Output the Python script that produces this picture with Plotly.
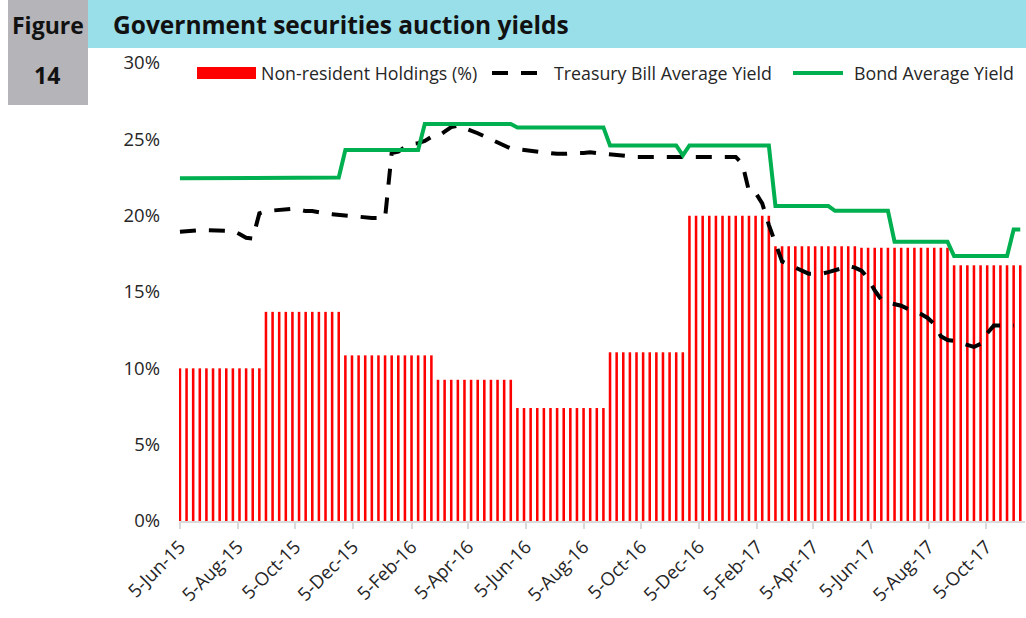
import pandas as pd
import plotly.graph_objects as go

# Weekly auction dates (Fridays) from 5-Jun-15
dates = pd.date_range("2015-06-05", periods=128, freq="7D")

holdings = [
    10.0, 10.0, 10.0, 10.0, 10.0, 10.0, 10.0, 10.0, 10.0, 10.0, 10.0, 10.0, 10.0,
    13.7, 13.7, 13.7, 13.7, 13.7, 13.7, 13.7, 13.7, 13.7, 13.7, 13.7, 13.7,
    10.85, 10.85, 10.85, 10.85, 10.85, 10.85, 10.85, 10.85, 10.85, 10.85, 10.85, 10.85, 10.85, 10.85,
    9.25, 9.25, 9.25, 9.25, 9.25, 9.25, 9.25, 9.25, 9.25, 9.25, 9.25, 9.25,
    7.4, 7.4, 7.4, 7.4, 7.4, 7.4, 7.4, 7.4, 7.4, 7.4, 7.4, 7.4, 7.4, 7.4,
    11.05, 11.05, 11.05, 11.05, 11.05, 11.05, 11.05, 11.05, 11.05, 11.05, 11.05, 11.05,
    20.0, 20.0, 20.0, 20.0, 20.0, 20.0, 20.0, 20.0, 20.0, 20.0, 20.0, 20.0, 20.0,
    18.0, 18.0, 18.0, 18.0, 18.0, 18.0, 18.0, 18.0, 18.0, 18.0, 18.0, 18.0, 18.0,
    17.9, 17.9, 17.9, 17.9, 17.9, 17.9, 17.9, 17.9, 17.9, 17.9, 17.9, 17.9, 17.9, 17.9,
    16.75, 16.75, 16.75, 16.75, 16.75, 16.75, 16.75, 16.75, 16.75, 16.75, 16.75,
]

tbill = [
    18.95, 19.0, 19.05, 19.05, 19.05, 19.05, 19.05, 19.0, 19.0, 18.8, 18.55, 18.5,
    20.15, 20.3, 20.35, 20.4, 20.4, 20.45, 20.4, 20.3, 20.3, 20.2, 20.15, 20.1, 20.05,
    20.0, 19.95, 19.9, 19.9, 19.85, 19.85, 19.85,
    24.1, 24.2, 24.5, 24.7, 24.75, 24.9, 25.15, 25.2, 25.5, 25.8, 25.9, 25.75,
    25.6, 25.4, 25.2, 25.0, 24.75, 24.55, 24.4, 24.35, 24.3, 24.2, 24.15, 24.1,
    24.1, 24.05, 24.05, 24.1, 24.1, 24.1, 24.15, 24.1, 24.05, 24.0, 24.0, 23.95,
    23.9, 23.85, 23.85, 23.85, 23.85, 23.85, 23.85, 23.85, 23.85, 23.85, 23.85,
    23.85, 23.85, 23.85, 23.85, 23.85, 23.85,
    23.4, 21.6, 21.5, 20.8, 19.4, 18.1, 17.0, 16.8, 16.6, 16.4, 16.2, 16.2, 16.2,
    16.3, 16.4, 16.55, 16.7, 16.6, 16.4, 15.9, 15.1, 14.5, 14.3, 14.2, 14.1, 13.9,
    13.75, 13.55, 13.3, 12.9, 12.1, 11.85, 11.8, 11.65, 11.5, 11.4, 11.6, 12.3,
    12.8, 12.8, 12.8, 12.8,
]

bond = [
    22.45, 22.45, 22.45, 22.45, 22.45, 22.45, 22.45, 22.45, 22.45, 22.45, 22.45, 22.45,
    22.5, 22.5, 22.5, 22.5, 22.5, 22.5, 22.5, 22.5, 22.5, 22.5, 22.5, 22.5, 22.5,
    24.3, 24.3, 24.3, 24.3, 24.3, 24.3, 24.3, 24.3, 24.3, 24.3, 24.3, 24.3,
    26.0, 26.0, 26.0, 26.0, 26.0, 26.0, 26.0, 26.0, 26.0, 26.0, 26.0, 26.0, 26.0, 26.0,
    25.78, 25.78, 25.78, 25.78, 25.78, 25.78, 25.78, 25.78, 25.78, 25.78, 25.78, 25.78, 25.78, 25.78,
    24.6, 24.6, 24.6, 24.6, 24.6, 24.6, 24.6, 24.6, 24.6, 24.6, 24.6,
    23.95,
    24.6, 24.6, 24.6, 24.6, 24.6, 24.6, 24.6, 24.6, 24.6, 24.6, 24.6, 24.6, 24.6,
    20.63, 20.63, 20.63, 20.63, 20.63, 20.63, 20.63, 20.63, 20.63,
    20.32, 20.32, 20.32, 20.32, 20.32, 20.32, 20.32, 20.32, 20.32,
    18.29, 18.29, 18.29, 18.29, 18.29, 18.29, 18.29, 18.29, 18.29,
    17.35, 17.35, 17.35, 17.35, 17.35, 17.35, 17.35, 17.35, 17.35,
    19.1, 19.1,
]

tick_dates = ["2015-06-05", "2015-08-05", "2015-10-05", "2015-12-05", "2016-02-05",
              "2016-04-05", "2016-06-05", "2016-08-05", "2016-10-05", "2016-12-05",
              "2017-02-05", "2017-04-05", "2017-06-05", "2017-08-05", "2017-10-05"]
tick_labels = ["5-Jun-15", "5-Aug-15", "5-Oct-15", "5-Dec-15", "5-Feb-16",
               "5-Apr-16", "5-Jun-16", "5-Aug-16", "5-Oct-16", "5-Dec-16",
               "5-Feb-17", "5-Apr-17", "5-Jun-17", "5-Aug-17", "5-Oct-17"]
y_ticks = [0, 5, 10, 15, 20, 25, 30]
y_labels = ["0%", "5%", "10%", "15%", "20%", "25%", "30%"]

title_text = "Government securities auction yields"
legend_names = ["Non-resident Holdings (%)", "Treasury Bill Average Yield", "Bond Average Yield"]

RED = "#ff0000"
GREEN = "#00b050"
FONT = "Open Sans"
TXT = "#262626"

W, H = 1026, 618
L, R, T, B = 179, 1, 63, 97
pw, ph = W - L - R, H - T - B


def px(x):
    return (x - L) / pw


def py(y):
    return (H - B - y) / ph


fig = go.Figure()
fig.add_trace(go.Bar(x=dates, y=holdings, name=legend_names[0], marker=dict(color=RED, line=dict(width=0)),
                     width=2.7 * 86400000, showlegend=False))
fig.add_trace(go.Scatter(x=dates, y=tbill, name=legend_names[1], mode="lines",
                         line=dict(color="black", width=4, dash="16px,13px"), showlegend=False))
fig.add_trace(go.Scatter(x=dates, y=bond, name=legend_names[2], mode="lines",
                         line=dict(color=GREEN, width=4), showlegend=False))

shapes = [
    dict(type="rect", xref="paper", yref="paper", x0=px(8), x1=px(88), y0=py(0), y1=py(105),
         fillcolor="#b4b4b9", line=dict(width=0), layer="below"),
    dict(type="rect", xref="paper", yref="paper", x0=px(88), x1=px(1026), y0=py(0), y1=py(48),
         fillcolor="#98dfea", line=dict(width=0), layer="below"),
    # legend swatches
    dict(type="rect", xref="paper", yref="paper", x0=px(197), x1=px(256), y0=py(67), y1=py(79),
         fillcolor=RED, line=dict(width=0)),
    dict(type="line", xref="paper", yref="paper", x0=px(492), x1=px(540), y0=py(73), y1=py(73),
         line=dict(color="black", width=4, dash="16px,13px")),
    dict(type="line", xref="paper", yref="paper", x0=px(793), x1=px(843), y0=py(73), y1=py(73),
         line=dict(color=GREEN, width=4)),
]

annotations = [
    dict(text="<b>Figure</b>", xref="paper", yref="paper", x=px(48), y=py(25), xanchor="center",
         yanchor="middle", showarrow=False, font=dict(family=FONT, size=23, color="#111111")),
    dict(text="<b>14</b>", xref="paper", yref="paper", x=px(47), y=py(75), xanchor="center",
         yanchor="middle", showarrow=False, font=dict(family=FONT, size=23, color="#111111")),
    dict(text="<b>" + title_text + "</b>", xref="paper", yref="paper", x=px(111), y=py(25),
         xanchor="left", yanchor="middle", showarrow=False, font=dict(family=FONT, size=24.5, color="#111111")),
    dict(text=legend_names[0], xref="paper", yref="paper", x=px(259), y=py(73), xanchor="left",
         yanchor="middle", showarrow=False, font=dict(family=FONT, size=17.8, color=TXT)),
    dict(text=legend_names[1], xref="paper", yref="paper", x=px(552), y=py(73), xanchor="left",
         yanchor="middle", showarrow=False, font=dict(family=FONT, size=17.8, color=TXT)),
    dict(text=legend_names[2], xref="paper", yref="paper", x=px(852), y=py(73), xanchor="left",
         yanchor="middle", showarrow=False, font=dict(family=FONT, size=17.8, color=TXT)),
]

fig.update_layout(
    width=W, height=H,
    margin=dict(l=L, r=R, t=T, b=B),
    paper_bgcolor="white", plot_bgcolor="white",
    showlegend=False,
    shapes=shapes, annotations=annotations,
    font=dict(family=FONT, size=18, color=TXT),
    xaxis=dict(type="date", range=["2015-06-04", "2017-11-15"], tickvals=tick_dates, ticktext=tick_labels,
               tickangle=-45, showgrid=False, zeroline=False, showline=True, linecolor="#d9d9d9",
               linewidth=1.5, ticks="outside", ticklen=6, tickcolor="#d9d9d9", tickwidth=1.5,
               tickfont=dict(family=FONT, size=18.5, color=TXT)),
    yaxis=dict(range=[0, 30], tickvals=y_ticks, ticktext=y_labels, showgrid=False, zeroline=False,
               showline=False, ticks="", ticklabelstandoff=18,
               tickfont=dict(family=FONT, size=18.5, color=TXT)),
)

fig.write_html("out.html", config={"displayModeBar": False},
               post_script="document.body.style.margin='0';document.body.style.overflow='hidden';")
